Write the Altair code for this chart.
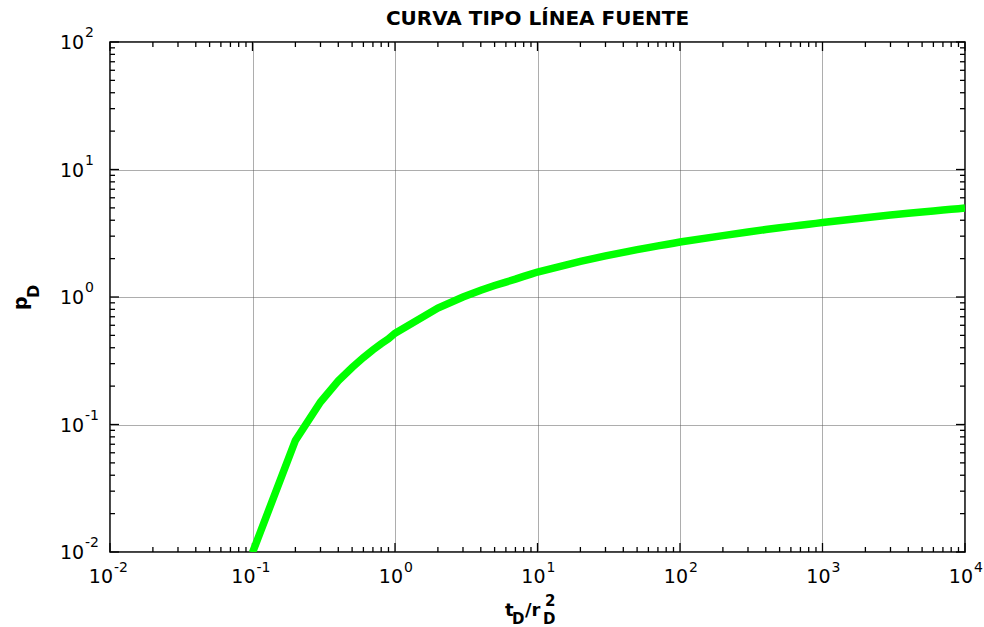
import altair as alt
import pandas as pd

# ---- data ----
t_D = [0.1, 0.2, 0.3, 0.4, 0.5, 0.6, 0.7, 0.8, 0.9,
       1, 2, 3, 4, 5, 6, 7, 8, 9,
       10, 20, 30, 40, 50, 60, 70, 80, 90,
       100, 200, 300, 400, 500, 600, 700, 800, 900,
       1000, 2000, 3000, 4000, 5000, 6000, 7000, 8000, 9000, 10000]
p_D = [0.0099, 0.075, 0.15, 0.22, 0.28, 0.335, 0.385, 0.43, 0.47,
       0.52, 0.82, 1.0, 1.13, 1.23, 1.31, 1.38, 1.45, 1.51,
       1.57, 1.9, 2.1, 2.24, 2.35, 2.44, 2.52, 2.58, 2.64,
       2.7, 3.03, 3.23, 3.38, 3.49, 3.58, 3.66, 3.72, 3.78,
       3.84, 4.19, 4.39, 4.53, 4.64, 4.73, 4.81, 4.87, 4.93, 4.98]

x_major = [0.01, 0.1, 1, 10, 100, 1000, 10000]
x_exp = ["-2", "-1", "0", "1", "2", "3", "4"]
y_major = [0.01, 0.1, 1, 10, 100]
y_exp = ["-2", "-1", "0", "1", "2"]
minor_mult = [2, 3, 4, 5, 6, 7, 8, 9]

title_text = "CURVA TIPO LÍNEA FUENTE"

W, H = 855, 510
FONT = "DejaVu Sans"

x_minor = [m * d for d in x_major[:-1] for m in minor_mult]
y_minor = [m * d for d in y_major[:-1] for m in minor_mult]

xscale = alt.Scale(type="log", domain=[0.01, 10000], nice=False)
yscale = alt.Scale(type="log", domain=[0.01, 100], nice=False)
xaxis = alt.Axis(values=x_major, grid=True, gridColor="#5a5a5a", gridDash=[1, 1],
                 gridWidth=1, labels=False, ticks=False, domain=False, title=None)
yaxis = alt.Axis(values=y_major, grid=True, gridColor="#5a5a5a", gridDash=[1, 1],
                 gridWidth=1, labels=False, ticks=False, domain=False, title=None)


def X(f):
    return alt.X(f"{f}:Q", scale=xscale, axis=xaxis)


def Y(f):
    return alt.Y(f"{f}:Q", scale=yscale, axis=yaxis)


curve = pd.DataFrame({"t": t_D, "p": p_D})
line = alt.Chart(curve).mark_line(color="#00ff00", strokeWidth=7.5, clip=True).encode(
    x=X("t"), y=Y("p"))


def ticks(vals, side, length):
    df = pd.DataFrame({"v": vals})
    c = alt.Chart(df).mark_rule(color="black", strokeWidth=1.3)
    if side == "bottom":
        return c.encode(x=X("v"), y=alt.value(H), y2=alt.value(H - length))
    if side == "top":
        return c.encode(x=X("v"), y=alt.value(0), y2=alt.value(length))
    if side == "left":
        return c.encode(y=Y("v"), x=alt.value(0), x2=alt.value(length))
    return c.encode(y=Y("v"), x=alt.value(W), x2=alt.value(W - length))


tick_layers = []
for s in ["bottom", "top", "left", "right"]:
    xs = s in ("bottom", "top")
    tick_layers.append(ticks(x_minor if xs else y_minor, s, 5))
    tick_layers.append(ticks(x_major if xs else y_major, s, 9))

# x tick labels: 10 with superscript exponent
xl = pd.DataFrame({"v": x_major, "e": x_exp})
xl_neg = xl[xl["e"].str.startswith("-")]
xl_pos = xl[~xl["e"].str.startswith("-")]


def xlabels(df, dx):
    base = alt.Chart(df).mark_text(font=FONT, fontSize=19, align="right",
                                   baseline="alphabetic", dx=dx, color="black").encode(
        x=X("v"), y=alt.value(H + 31), text=alt.value("10"))
    sup = alt.Chart(df).mark_text(font=FONT, fontSize=14, align="left",
                                  baseline="alphabetic", dx=dx + 1, color="black").encode(
        x=X("v"), y=alt.value(H + 20), text="e:N")
    return [base, sup]


yl = pd.DataFrame({"v": y_major, "e": y_exp})
ybase = alt.Chart(yl).mark_text(font=FONT, fontSize=19, align="left",
                                baseline="alphabetic", dy=7, color="black").encode(
    y=Y("v"), x=alt.value(-50), text=alt.value("10"))
ysup = alt.Chart(yl).mark_text(font=FONT, fontSize=14, align="left",
                               baseline="alphabetic", dy=-5, color="black").encode(
    y=Y("v"), x=alt.value(-25), text="e:N")

one = pd.DataFrame({"a": [0]})


def txt(s, x, y, size, angle=0):
    kw = dict(font=FONT, fontSize=size, fontWeight="bold", align="left",
              baseline="alphabetic", color="black")
    if angle:
        kw["angle"] = angle
    return alt.Chart(one).mark_text(**kw).encode(
        x=alt.value(x), y=alt.value(y), text=alt.value(s))


title = alt.Chart(one).mark_text(font=FONT, fontSize=20, fontWeight="bold",
                                 align="center", baseline="alphabetic", color="black").encode(
    x=alt.value(W / 2), y=alt.value(-17), text=alt.value(title_text))

# x axis title  t_D / r_D^2   (positions relative to the plot's top-left corner)
xt = [txt("t", 395, 574, 18), txt("D", 402, 582, 15), txt("/r", 415, 574, 18),
      txt("D", 433, 582, 15), txt("2", 435, 564, 15)]
# y axis title  p_D  (rotated)
yt = [txt("p", -83, 268, 19, 270), txt("D", -71, 256, 16, 270)]

layers = tick_layers + [line] + xlabels(xl_neg, 3) + xlabels(xl_pos, 8) + \
    [ybase, ysup, title] + xt + yt

chart = alt.layer(*layers).properties(
    width=W, height=H,
    padding={"left": 110, "top": 42, "right": 19, "bottom": 75},
    autosize=alt.AutoSizeParams(type="none"),
    background="white",
).configure_view(stroke="black", strokeWidth=1.5)

chart.save("out.html", embed_options={"renderer": "svg", "actions": False})
